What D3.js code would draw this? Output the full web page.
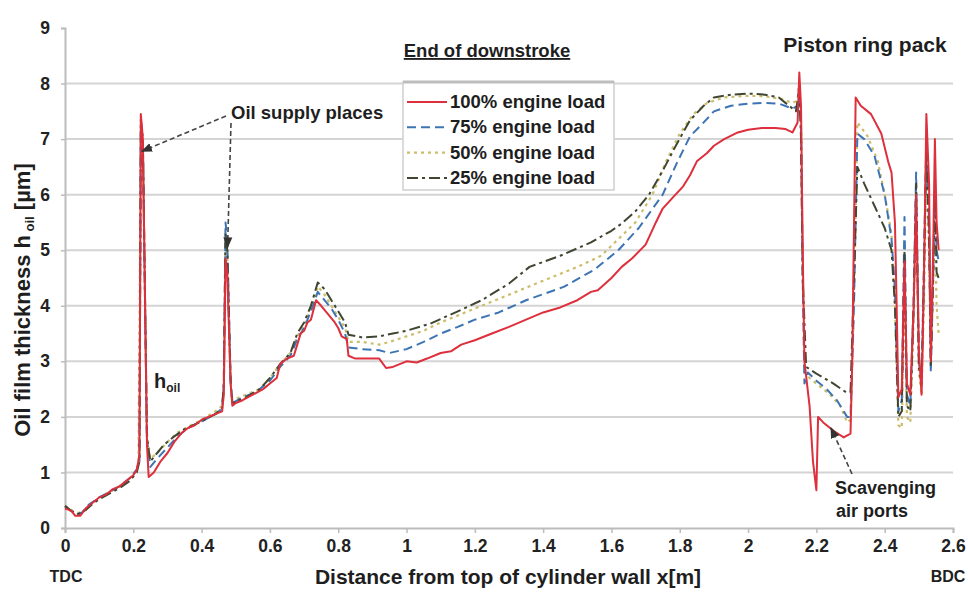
<!DOCTYPE html>
<html>
<head>
<meta charset="utf-8">
<script src="https://cdn.jsdelivr.net/npm/d3@7"></script>
<style>
  html, body { margin: 0; padding: 0; background: #fff; }
  svg { display: block; font-family: "Liberation Sans", Arial, sans-serif; font-weight: bold; }
</style>
</head>
<body>
<svg id="chart" width="968" height="599"></svg>
<script>
// Oil film thickness along the liner at the end of the downstroke, [x in m, h in µm]
const load100 = [[0,0.35],[0.01,0.33],[0.02,0.3],[0.03,0.22],[0.045,0.22],[0.06,0.35],[0.08,0.45],[0.1,0.55],[0.12,0.6],[0.14,0.7],[0.16,0.75],[0.18,0.85],[0.2,0.95],[0.21,1.05],[0.218,1.3],[0.222,7.45],[0.228,7.0],[0.24,1.5],[0.245,0.92],[0.26,1.0],[0.28,1.2],[0.3,1.35],[0.32,1.55],[0.34,1.7],[0.36,1.8],[0.38,1.85],[0.4,1.95],[0.42,2.0],[0.44,2.05],[0.46,2.1],[0.465,2.4],[0.47,4.85],[0.475,4.6],[0.485,2.6],[0.49,2.2],[0.5,2.25],[0.52,2.3],[0.55,2.4],[0.58,2.5],[0.6,2.6],[0.62,2.7],[0.63,2.95],[0.65,3.05],[0.67,3.1],[0.68,3.3],[0.69,3.5],[0.7,3.55],[0.71,3.7],[0.72,3.75],[0.735,4.1],[0.75,4.0],[0.77,3.85],[0.79,3.7],[0.8,3.6],[0.81,3.45],[0.825,3.4],[0.83,3.1],[0.85,3.05],[0.88,3.05],[0.92,3.05],[0.94,2.88],[0.96,2.9],[0.98,2.95],[1.0,3.0],[1.03,2.98],[1.06,3.05],[1.1,3.15],[1.13,3.18],[1.16,3.3],[1.2,3.38],[1.25,3.5],[1.3,3.62],[1.35,3.75],[1.4,3.88],[1.45,3.97],[1.5,4.1],[1.54,4.25],[1.56,4.28],[1.6,4.5],[1.63,4.7],[1.66,4.85],[1.7,5.1],[1.73,5.5],[1.75,5.75],[1.78,5.95],[1.81,6.15],[1.83,6.35],[1.85,6.6],[1.88,6.75],[1.9,6.88],[1.93,7.0],[1.97,7.12],[2.0,7.17],[2.04,7.2],[2.08,7.2],[2.11,7.18],[2.13,7.12],[2.145,7.3],[2.15,8.2],[2.155,7.6],[2.16,5.0],[2.165,3.0],[2.18,2.2],[2.19,1.2],[2.2,0.68],[2.205,2.0],[2.22,1.9],[2.25,1.75],[2.28,1.63],[2.3,1.7],[2.305,3.0],[2.315,7.75],[2.33,7.6],[2.36,7.45],[2.39,7.1],[2.41,6.6],[2.42,6.4],[2.43,5.5],[2.435,4.0],[2.44,2.35],[2.45,2.5],[2.458,4.8],[2.465,2.6],[2.475,2.4],[2.485,4.0],[2.492,6.0],[2.5,3.2],[2.508,2.4],[2.515,4.5],[2.522,7.45],[2.53,6.2],[2.535,3.0],[2.542,5.0],[2.547,7.0],[2.552,5.5],[2.558,5.0]];

const load75 = [[0,0.38],[0.02,0.3],[0.035,0.25],[0.05,0.28],[0.07,0.42],[0.1,0.55],[0.13,0.65],[0.16,0.75],[0.19,0.9],[0.21,1.05],[0.218,1.2],[0.222,7.2],[0.228,6.9],[0.24,1.6],[0.25,1.1],[0.27,1.25],[0.3,1.45],[0.33,1.65],[0.36,1.8],[0.4,1.92],[0.44,2.05],[0.46,2.15],[0.465,2.6],[0.47,5.5],[0.475,5.2],[0.485,2.7],[0.49,2.25],[0.52,2.35],[0.56,2.45],[0.6,2.65],[0.63,2.9],[0.66,3.1],[0.68,3.4],[0.7,3.6],[0.72,3.9],[0.74,4.25],[0.76,4.1],[0.78,3.95],[0.8,3.75],[0.82,3.5],[0.83,3.25],[0.87,3.22],[0.92,3.2],[0.95,3.15],[1.0,3.22],[1.05,3.35],[1.1,3.5],[1.15,3.62],[1.2,3.75],[1.27,3.88],[1.35,4.1],[1.46,4.34],[1.55,4.65],[1.62,5.0],[1.68,5.4],[1.75,6.0],[1.79,6.55],[1.83,7.05],[1.87,7.3],[1.9,7.5],[1.95,7.6],[2.0,7.64],[2.05,7.65],[2.09,7.64],[2.13,7.55],[2.145,7.6],[2.15,8.0],[2.155,7.2],[2.16,4.5],[2.165,2.6],[2.175,2.8],[2.2,2.65],[2.23,2.5],[2.26,2.3],[2.29,2.0],[2.3,2.0],[2.31,4.0],[2.32,7.1],[2.34,7.0],[2.37,6.7],[2.4,6.0],[2.42,5.2],[2.43,4.3],[2.44,2.1],[2.45,2.3],[2.458,5.6],[2.465,2.4],[2.475,2.2],[2.485,4.2],[2.492,6.4],[2.5,3.0],[2.508,2.6],[2.515,4.8],[2.522,7.0],[2.53,5.5],[2.535,2.8],[2.542,4.5],[2.547,6.2],[2.552,5.0],[2.558,4.8]];

const load50 = [[0,0.4],[0.02,0.32],[0.04,0.27],[0.06,0.33],[0.08,0.45],[0.11,0.58],[0.14,0.68],[0.17,0.8],[0.2,0.95],[0.215,1.15],[0.222,7.0],[0.228,6.6],[0.24,1.7],[0.25,1.25],[0.27,1.35],[0.3,1.55],[0.33,1.72],[0.36,1.82],[0.4,1.95],[0.44,2.1],[0.46,2.2],[0.465,2.5],[0.47,5.2],[0.475,4.9],[0.485,2.6],[0.49,2.3],[0.53,2.4],[0.57,2.5],[0.6,2.7],[0.63,2.95],[0.66,3.15],[0.68,3.45],[0.7,3.65],[0.72,3.95],[0.74,4.35],[0.76,4.2],[0.78,4.0],[0.8,3.8],[0.82,3.6],[0.83,3.35],[0.87,3.35],[0.92,3.3],[0.95,3.35],[1.0,3.45],[1.05,3.55],[1.1,3.7],[1.2,3.95],[1.3,4.2],[1.4,4.45],[1.5,4.7],[1.57,4.9],[1.62,5.2],[1.67,5.5],[1.72,6.0],[1.76,6.6],[1.8,7.1],[1.84,7.45],[1.88,7.65],[1.93,7.75],[2.0,7.78],[2.05,7.77],[2.1,7.72],[2.13,7.65],[2.145,7.7],[2.15,8.05],[2.155,7.3],[2.16,4.5],[2.165,2.8],[2.18,2.7],[2.2,2.6],[2.24,2.4],[2.27,2.2],[2.29,1.9],[2.3,1.95],[2.31,4.0],[2.32,7.3],[2.35,7.05],[2.38,6.6],[2.4,6.0],[2.42,5.3],[2.43,4.0],[2.44,1.85],[2.45,1.8],[2.458,4.5],[2.465,2.0],[2.475,1.9],[2.485,3.8],[2.492,5.8],[2.5,2.8],[2.508,2.4],[2.515,4.0],[2.522,6.6],[2.53,5.0],[2.535,3.0],[2.542,4.5],[2.547,5.5],[2.552,4.0],[2.558,3.5]];

const load25 = [[0,0.4],[0.02,0.3],[0.04,0.25],[0.06,0.32],[0.08,0.43],[0.1,0.52],[0.13,0.62],[0.16,0.72],[0.19,0.85],[0.21,1.0],[0.218,1.2],[0.222,7.35],[0.228,7.0],[0.24,1.6],[0.25,1.2],[0.27,1.35],[0.29,1.5],[0.32,1.65],[0.35,1.78],[0.4,1.92],[0.44,2.05],[0.46,2.15],[0.465,2.6],[0.47,5.3],[0.475,5.0],[0.485,2.6],[0.49,2.25],[0.53,2.35],[0.57,2.5],[0.6,2.7],[0.63,2.95],[0.66,3.15],[0.68,3.5],[0.7,3.7],[0.72,4.0],[0.74,4.42],[0.76,4.3],[0.78,4.1],[0.8,3.9],[0.82,3.7],[0.83,3.48],[0.87,3.43],[0.92,3.45],[0.96,3.5],[1.0,3.55],[1.07,3.68],[1.15,3.9],[1.22,4.1],[1.3,4.4],[1.36,4.7],[1.45,4.9],[1.54,5.14],[1.6,5.35],[1.63,5.48],[1.67,5.7],[1.71,6.0],[1.75,6.43],[1.79,6.9],[1.83,7.34],[1.87,7.6],[1.9,7.75],[1.95,7.8],[2.0,7.82],[2.05,7.8],[2.09,7.75],[2.12,7.6],[2.14,7.5],[2.15,7.9],[2.155,7.0],[2.16,4.5],[2.17,2.9],[2.2,2.78],[2.25,2.6],[2.29,2.43],[2.3,2.45],[2.31,4.5],[2.32,6.5],[2.34,6.2],[2.37,5.8],[2.4,5.4],[2.42,5.0],[2.43,4.0],[2.44,2.0],[2.45,2.1],[2.458,5.0],[2.465,2.2],[2.475,2.1],[2.485,4.0],[2.492,6.2],[2.5,2.9],[2.508,2.6],[2.515,4.6],[2.522,6.8],[2.53,5.2],[2.535,2.9],[2.542,4.6],[2.547,6.0],[2.552,4.6],[2.558,4.5]];

const seriesNames = ["100% engine load", "75% engine load", "50% engine load", "25% engine load"];
const xTicks = [0, 0.2, 0.4, 0.6, 0.8, 1, 1.2, 1.4, 1.6, 1.8, 2, 2.2, 2.4, 2.6];
const yTicks = [0, 1, 2, 3, 4, 5, 6, 7, 8, 9];
const yGrid = [1, 2, 3, 4, 5, 6, 7, 8];

const svg = d3.select("#chart");
svg.append("rect").attr("width", 968).attr("height", 599).attr("fill", "#fff");

const x = d3.scaleLinear().domain([0, 2.6]).range([65, 953]);
const y = d3.scaleLinear().domain([0, 9]).range([528, 28]);

// horizontal gridlines
svg.append("g").selectAll("line").data(yGrid).join("line")
  .attr("x1", x(0)).attr("x2", x(2.6))
  .attr("y1", d => y(d)).attr("y2", d => y(d))
  .attr("stroke", "#d4d4d4").attr("stroke-width", 2);

// axes
const xAxis = svg.append("g").attr("transform", `translate(0,${y(0)})`)
  .call(d3.axisBottom(x).tickValues(xTicks).tickSize(5).tickPadding(7)
    .tickFormat(d => String(+d.toFixed(1))));
const yAxis = svg.append("g").attr("transform", `translate(${x(0)},0)`)
  .call(d3.axisLeft(y).tickValues(yTicks).tickSize(4).tickPadding(11));
[xAxis, yAxis].forEach(a => {
  a.select(".domain").attr("stroke", "#bcbcbc").attr("stroke-width", 2);
  a.selectAll(".tick line").attr("stroke", "#bcbcbc").attr("stroke-width", 1.5);
  a.selectAll(".tick text").attr("fill", "#222").attr("font-size", 17.5)
    .attr("font-weight", "bold").attr("font-family", "Liberation Sans, Arial, sans-serif");
});

// series styles
const styles = [
  { data: load100, color: "#dd2f3c", dash: null, width: 2 },
  { data: load75, color: "#3d74b3", dash: "9,5", width: 2 },
  { data: load50, color: "#cbbd6a", dash: "3,4", width: 2.2 },
  { data: load25, color: "#3f4631", dash: "11,4,3,4", width: 2 }
];
const line = d3.line().x(d => x(d[0])).y(d => y(d[1]));
const drawOrder = [2, 1, 3, 0];
drawOrder.forEach(i => {
  const s = styles[i];
  svg.append("path").datum(s.data)
    .attr("d", line)
    .attr("fill", "none")
    .attr("stroke", s.color)
    .attr("stroke-width", s.width)
    .attr("stroke-dasharray", s.dash)
    .attr("stroke-linejoin", "round");
});

// arrow marker
const defs = svg.append("defs");
defs.append("marker").attr("id", "arr").attr("viewBox", "0 0 10 10")
  .attr("refX", 9).attr("refY", 5).attr("markerWidth", 7).attr("markerHeight", 7)
  .attr("orient", "auto-start-reverse")
  .append("path").attr("d", "M0,1 L10,5 L0,9 z").attr("fill", "#333");

const arrows = [
  [[226, 116], [x(0.225), y(6.78)]],
  [[231, 123], [x(0.476), y(5.05)]],
  [[852, 474], [831, 428]]
];
svg.append("g").selectAll("line").data(arrows).join("line")
  .attr("x1", d => d[0][0]).attr("y1", d => d[0][1])
  .attr("x2", d => d[1][0]).attr("y2", d => d[1][1])
  .attr("stroke", "#444").attr("stroke-width", 1.6)
  .attr("stroke-dasharray", "5,3")
  .attr("marker-end", "url(#arr)");

// legend
const lg = svg.append("g");
lg.append("rect").attr("x", 403).attr("y", 82).attr("width", 211).attr("height", 108)
  .attr("fill", "#fff").attr("stroke", "#cfcfcf").attr("stroke-width", 1.5);
lg.append("line").attr("x1", 403).attr("x2", 614).attr("y1", 82).attr("y2", 82)
  .attr("stroke", "#bdbdbd").attr("stroke-width", 3);
seriesNames.forEach((name, i) => {
  const cy = 102 + i * 25.3;
  const s = styles[i];
  lg.append("line").attr("x1", 407).attr("x2", 447).attr("y1", cy).attr("y2", cy)
    .attr("stroke", s.color).attr("stroke-width", s.width).attr("stroke-dasharray", s.dash);
  lg.append("text").attr("x", 450).attr("y", cy + 6).attr("font-size", 18.5)
    .attr("fill", "#1e1e1e").text(name);
});

// titles and annotations
svg.append("text").attr("x", 487).attr("y", 57).attr("text-anchor", "middle")
  .attr("font-size", 18.5).attr("fill", "#1e1e1e").attr("text-decoration", "underline")
  .text("End of downstroke");
svg.append("text").attr("x", 865).attr("y", 52).attr("text-anchor", "middle")
  .attr("font-size", 21).attr("fill", "#1e1e1e").text("Piston ring pack");
svg.append("text").attr("x", 231).attr("y", 119)
  .attr("font-size", 18.5).attr("fill", "#1e1e1e").text("Oil supply places");
svg.append("text").attr("x", 835).attr("y", 494)
  .attr("font-size", 18).attr("fill", "#1e1e1e").text("Scavenging");
svg.append("text").attr("x", 836).attr("y", 517)
  .attr("font-size", 18).attr("fill", "#1e1e1e").text("air ports");

const hoil = svg.append("text").attr("x", 154).attr("y", 388)
  .attr("font-size", 20).attr("fill", "#1e1e1e");
hoil.append("tspan").text("h");
hoil.append("tspan").attr("font-size", 12).attr("dy", 4).text("oil");

// axis titles
svg.append("text").attr("x", 508).attr("y", 584).attr("text-anchor", "middle")
  .attr("font-size", 21).attr("fill", "#1e1e1e").text("Distance from top of cylinder wall x[m]");
svg.append("text").attr("x", 66).attr("y", 582).attr("text-anchor", "middle")
  .attr("font-size", 16).attr("fill", "#1e1e1e").text("TDC");
svg.append("text").attr("x", 948).attr("y", 582).attr("text-anchor", "middle")
  .attr("font-size", 16).attr("fill", "#1e1e1e").text("BDC");

const yt = svg.append("text")
  .attr("transform", "translate(30,300) rotate(-90)")
  .attr("text-anchor", "middle").attr("font-size", 22).attr("fill", "#1e1e1e");
yt.append("tspan").text("Oil film thickness h");
yt.append("tspan").attr("font-size", 13).attr("dy", 4).text(" oil");
yt.append("tspan").attr("dy", -4).text(" [µm]");
</script>
</body>
</html>
